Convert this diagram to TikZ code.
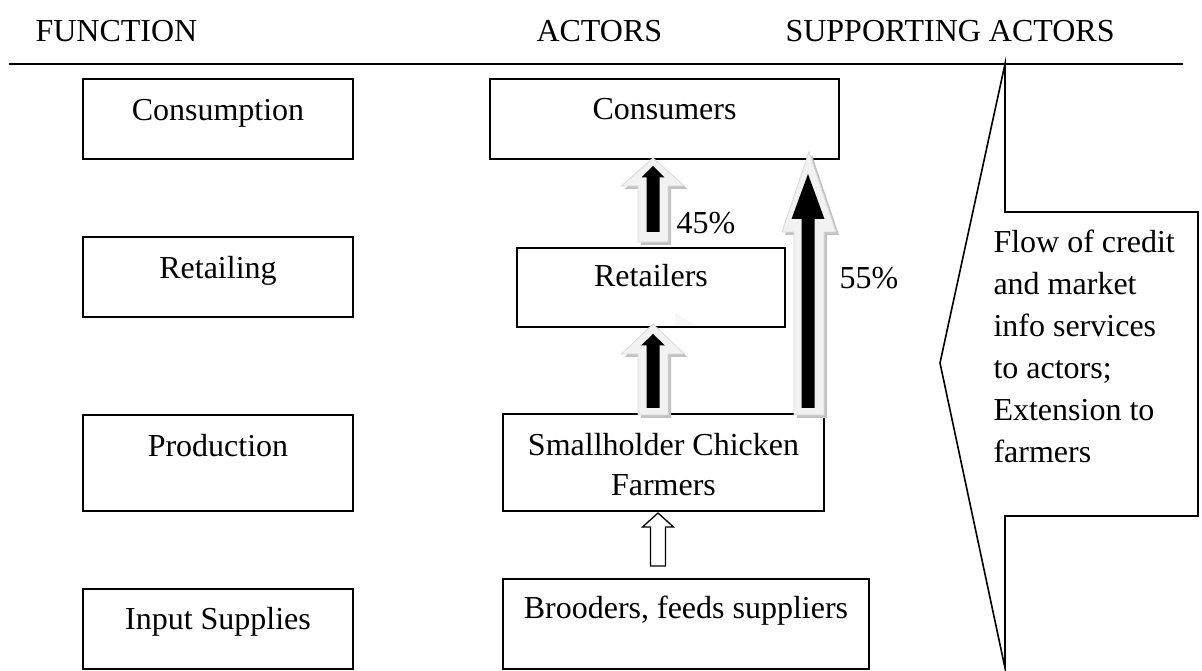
\documentclass[tikz,border=0pt]{standalone}
\usepackage{fontspec}
\setmainfont{Liberation Serif}
\usepackage{tikz}
\usetikzlibrary{positioning,calc}
\definecolor{ArrowLight}{HTML}{F2F2F2}
\definecolor{ArrowEdge}{HTML}{D9D9D9}
\definecolor{ArrowShade}{HTML}{C2C2C2}

\newcommand{\blockarrow}[6][]{%
  \path[#1] ([shift={(-#4,0)}]#2) -- ([shift={(-#4,#6)}]#3) -- ([shift={(-#5,#6)}]#3)
    -- (#3) -- ([shift={(#5,#6)}]#3) -- ([shift={(#4,#6)}]#3)
    -- ([shift={(#4,0)}]#2) -- cycle;}

\begin{document}
\begin{tikzpicture}[
  x=0.375pt,y=-0.375pt,
  every node/.style={font=\fontsize{12}{15}\selectfont},
  fbox/.style={draw,line width=0.75pt,inner xsep=0pt,inner ysep=0pt,
               anchor=north west,align=center},
  head/.style={anchor=base west,inner sep=0pt},
  pct/.style={anchor=base west,inner sep=0pt},
  glow/.style={fill=ArrowLight,draw=ArrowEdge,line width=0.3pt},
  glowshade/.style={fill=ArrowShade,transform canvas={shift={(3,3)}}},
  core/.style={fill=black},
  hollow/.style={fill=white,draw=black,line width=0.5pt}
]
  \useasboundingbox (0,0) rectangle (1202,671);

  \node[head] (hfun) at (35,42) {FUNCTION};
  \node[head] (hact) at (536,42) {ACTORS};
  \node[head] (hsup) at (785,42) {SUPPORTING ACTORS};
  \draw[line width=0.9pt] (9,64) -- (1183,64);

  \node[fbox,minimum width=101.25pt,text height=15.75pt,text depth=14.25pt]
    (cons) at (82,78) {Consumption};
  \node[fbox,minimum width=101.25pt,text height=15.75pt,text depth=14.25pt]
    (retl) at (82,236) {Retailing};
  \node[fbox,minimum width=101.25pt,text height=15.75pt,text depth=20.25pt]
    (prod) at (82,414) {Production};
  \node[fbox,minimum width=101.25pt,text height=15.375pt,text depth=14.625pt]
    (inpt) at (82,588) {Input Supplies};

  \node[fbox,minimum width=130.875pt,text height=15.375pt,text depth=14.625pt]
    (consumers) at (489,78) {Consumers};
  \node[fbox,minimum width=100.5pt,text height=14.625pt,text depth=15pt]
    (retailers) at (516,247) {Retailers};
  \node[fbox,minimum width=120.375pt,text height=30.75pt,text depth=5.625pt]
    (farmers) at (502,413) {Smallholder Chicken\\Farmers};
  \node[fbox,minimum width=137.25pt,text height=15pt,text depth=18.75pt]
    (brooders) at (502,578) {Brooders, feeds suppliers};

  % supporting actors callout
  \draw[line width=0.6pt] (1005,64) -- (1005,212) -- (1198,212) -- (1198,516)
    -- (1005,516) -- (1005,668) -- (940,363) -- cycle;
  \node[anchor=base west,align=left,inner sep=0pt,font=\fontsize{12}{15.75}\selectfont]
    (supp) at (993,463) {Flow of credit\\and market\\info services\\to actors;\\Extension to\\farmers};

  \coordinate (lowA) at ($(retailers.north)+(2,-5)$);
  \coordinate (topA) at ($(lowA |- consumers.south)+(0,-2)$);
  \coordinate (lowAc) at ($(lowA)+(0,-10)$);
  \coordinate (topAc) at ($(topA)+(0,8)$);
  \coordinate (lowB) at ($(retailers.south |- farmers.north)+(2,2)$);
  \coordinate (topB) at ($(retailers.south)+(2,-4)$);
  \coordinate (lowBc) at ($(lowB)+(0,-7)$);
  \coordinate (topBc) at ($(topB)+(0,10)$);
  \coordinate (topC) at ($(consumers.south east)+(-31,-8)$);
  \coordinate (lowC) at ($(topC |- farmers.north)+(0,2)$);
  \coordinate (lowCc) at ($(lowC)+(-1,-7)$);
  \coordinate (topCc) at ($(topC)+(-1,22)$);
  \coordinate (topD) at ($(farmers.south)+(-5.5,1)$);
  \coordinate (lowD) at ($(topD |- brooders.north)+(0,-12)$);

  \blockarrow[glowshade]{lowA}{topA}{15}{31.5}{28}
  \blockarrow[glow]{lowA}{topA}{15}{31.5}{28}
  \blockarrow[core]{lowAc}{topAc}{6.5}{11.5}{11.5}

  \blockarrow[glowshade]{lowB}{topB}{15}{31.5}{30}
  \blockarrow[glow]{lowB}{topB}{15}{31.5}{30}
  \blockarrow[core]{lowBc}{topBc}{6.5}{12}{11.5}

  \blockarrow[glowshade]{lowC}{topC}{15}{27}{80}
  \blockarrow[glow]{lowC}{topC}{15}{27}{80}
  \blockarrow[core]{lowCc}{topCc}{6.5}{16.5}{45}

  \blockarrow[hollow]{lowD}{topD}{7.5}{15.5}{14}

  \fill[ArrowLight!60!white] (675,313) -- (695,325) -- (675,325) -- cycle;

  \node[pct] (p45) at ($(lowA)+(23,-8)$) {45\%};
  \node[pct] (p55) at ($(retailers.base east)+(53,2)$) {55\%};
\end{tikzpicture}
\end{document}
